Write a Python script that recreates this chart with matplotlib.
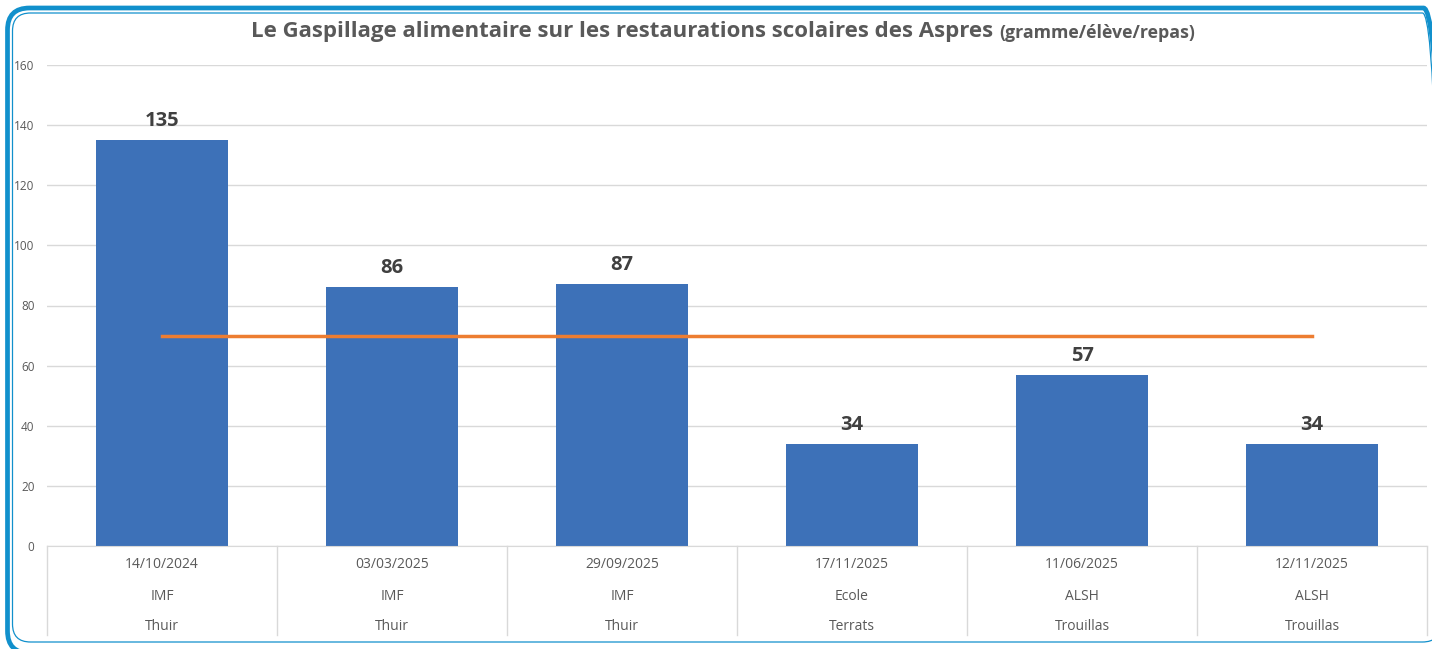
import numpy as np
import matplotlib.pyplot as plt
from matplotlib.patches import FancyBboxPatch
import matplotlib.transforms as mtrans

# data
dates = ["14/10/2024", "03/03/2025", "29/09/2025", "17/11/2025", "11/06/2025", "12/11/2025"]
types = ["IMF", "IMF", "IMF", "Ecole", "ALSH", "ALSH"]
towns = ["Thuir", "Thuir", "Thuir", "Terrats", "Trouillas", "Trouillas"]
waste = [135, 86, 87, 34, 57, 34]
target = [70, 70, 70, 70, 70, 70]
yticks = [0, 20, 40, 60, 80, 100, 120, 140, 160]

W, H = 1432, 649
fig = plt.figure(figsize=(W / 100, H / 100), dpi=100)
plt.rcParams['font.family'] = ['Open Sans', 'DejaVu Sans']

ax = fig.add_axes([47 / W, 1 - 546 / H, 1380 / W, 481 / H])
x = np.arange(len(waste))
ax.bar(x, waste, width=0.574, color='#3d71b8', zorder=2)
ax.plot(x, target, color='#ed7d31', lw=2.5, zorder=3)

for xi, v in zip(x, waste):
    ax.annotate(str(v), (xi, v), xytext=(0, 6.5), textcoords='offset points',
                ha='center', va='bottom', fontsize=14.5, fontweight='bold', color='#404040')

ax.set_xlim(-0.5, len(waste) - 0.5)
ax.set_ylim(0, 160)
ax.set_yticks(yticks)
ax.yaxis.grid(True, color='#d9d9d9', lw=1, zorder=0)
ax.tick_params(axis='y', length=0, pad=9, labelsize=8.5, labelcolor='#595959')
ax.set_xticks([])
for s in ['top', 'right', 'left']:
    ax.spines[s].set_visible(False)
ax.spines['bottom'].set_color('#d9d9d9')

# multi-level category labels
trans = mtrans.blended_transform_factory(ax.transData, ax.transAxes)
row_y = [-19 / 481, -50 / 481, -80 / 481]
for xi in x:
    for ry, lab in zip(row_y, [dates[xi], types[xi], towns[xi]]):
        ax.text(xi, ry, lab, transform=trans, ha='center', va='center',
                fontsize=10, color='#595959')
for b in np.arange(-0.5, len(waste), 1.0):
    ax.plot([b, b], [0, -89 / 481], transform=trans, color='#d9d9d9', lw=1, clip_on=False)

# title in two sizes
t1 = fig.text(0.5, 1 - 32 / H, "Le Gaspillage alimentaire sur les restaurations scolaires des Aspres ",
              ha='left', va='center', fontsize=16, fontweight='bold', color='#595959')
fig.canvas.draw()
r = fig.canvas.get_renderer()
t2 = fig.text(0.5, 1 - 33.5 / H, "(gramme/élève/repas)", ha='left', va='center',
              fontsize=12.8, fontweight='bold', color='#595959')
w1 = t1.get_window_extent(r).width
w2 = t2.get_window_extent(r).width
start = 723 - (w1 + w2) / 2
t1.set_x(start / W)
t2.set_x((start + w1) / W)

# rounded double border, drawn in pixels
px = mtrans.IdentityTransform()
outer = FancyBboxPatch((7.5, -4), 1438, 645, boxstyle="round,pad=0,rounding_size=22",
                       transform=px, fill=False, ec='#1190cc', lw=3.4)
inner = FancyBboxPatch((12.5, 7), 1428, 629, boxstyle="round,pad=0,rounding_size=18",
                       transform=px, fill=False, ec='#1190cc', lw=0.9)
fig.patches.extend([outer, inner])

fig.savefig('out.png', dpi=100)
